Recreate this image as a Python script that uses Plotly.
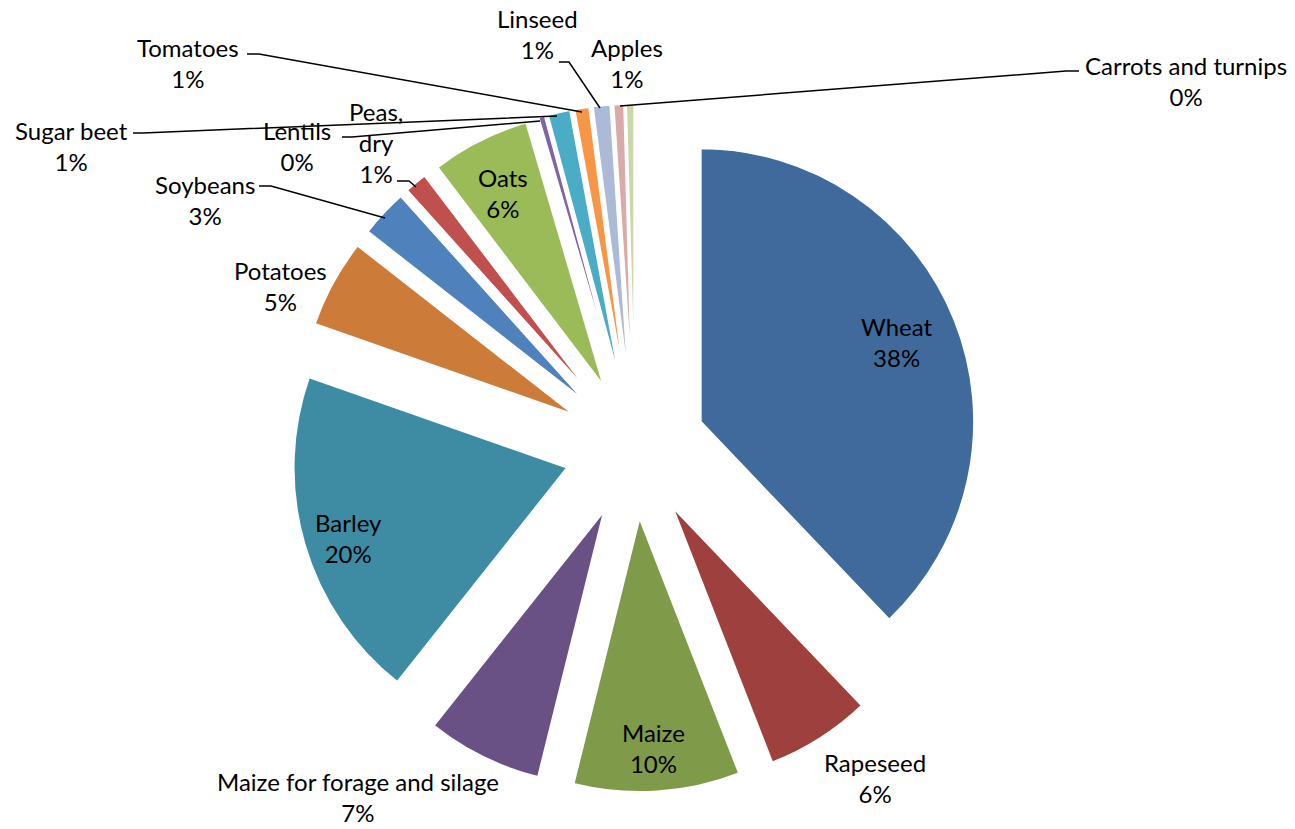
import plotly.graph_objects as go

W, H = 1295, 829

crops = ["Wheat", "Rapeseed", "Maize", "Maize for forage and silage", "Barley",
         "Potatoes", "Soybeans", "Peas, dry", "Oats", "Lentils", "Sugar beet",
         "Tomatoes", "Linseed", "Apples", "Carrots and turnips"]
shares = [37.9, 6.2, 9.8, 6.8, 19.7, 5.2, 2.8, 1.3, 5.8, 0.35, 1.3, 0.85, 1.0, 0.6, 0.45]
label_names = ["Wheat", "Rapeseed", "Maize", "Maize for forage and silage", "Barley",
               "Potatoes", "Soybeans", "Peas,<br>dry", "Oats", "Lentils", "Sugar beet",
               "Tomatoes", "Linseed", "Apples", "Carrots and turnips"]

colors = ["#40699C", "#9E413E", "#7F9A48", "#695185", "#3D8CA3", "#CC7B38",
          "#4F81BD", "#C0504D", "#9BBB59", "#8064A2", "#4BACC6", "#F79646",
          "#AABAD7", "#D9AAA9", "#C9D7A9"]

# label centre positions (pixels)
label_pos = [(897, 342), (875, 778), (653, 748), (358, 797), (348, 538),
             (280, 286), (205, 200), (376, 142), (503, 193), (297, 146), (71, 146),
             (188, 63), (537, 34), (627, 63), (1186, 81)]

# leader lines (pixel paths)
leaders = [
    [(247, 54), (259, 54), (582, 112)],          # Tomatoes
    [(559, 62), (569, 62), (600, 108)],          # Linseed
    [(1079, 71), (1066, 71), (620, 106)],        # Carrots
    [(133, 133), (143, 133), (557, 116)],        # Sugar beet
    [(342, 137), (352, 137), (540, 121)],        # Lentils
    [(397, 181), (409, 181), (416, 187)],        # Peas
    [(259, 186), (271, 186), (385, 218)],        # Soybeans
]

total = sum(shares)

def px(x, y):
    return x / W, 1 - y / H

cx, cy = 635, 448
pull = 0.26
R = 273
half = R * (1 + pull)

fig = go.Figure(go.Pie(
    labels=crops, values=shares, sort=False, direction="clockwise", rotation=0,
    pull=[pull] * len(shares), textinfo="none", hoverinfo="label+percent",
    marker=dict(colors=colors, line=dict(color="white", width=1.5)),
    showlegend=False,
    domain=dict(x=[(cx - half) / W, (cx + half) / W],
                y=[1 - (cy + half) / H, 1 - (cy - half) / H]),
))

font = dict(family="Lato, Open Sans, sans-serif", size=24, color="#000000")
annotations = []
for name, v, (x, y) in zip(label_names, shares, label_pos):
    pct = round(v / total * 100)
    ax, ay = px(x, y)
    annotations.append(dict(text=f"{name}<br>{pct}%", x=ax, y=ay, xref="paper", yref="paper",
                            showarrow=False, xanchor="center", yanchor="middle",
                            font=font, align="center"))

shapes = []
for pts in leaders:
    path = "M " + " L ".join(f"{px(x, y)[0]:.5f},{px(x, y)[1]:.5f}" for x, y in pts)
    shapes.append(dict(type="path", path=path, xref="paper", yref="paper",
                       line=dict(color="black", width=1.5)))

fig.update_layout(width=W, height=H, margin=dict(l=0, r=0, t=0, b=0),
                  paper_bgcolor="white", plot_bgcolor="white",
                  annotations=annotations, shapes=shapes)

fig.write_html("out.html")
